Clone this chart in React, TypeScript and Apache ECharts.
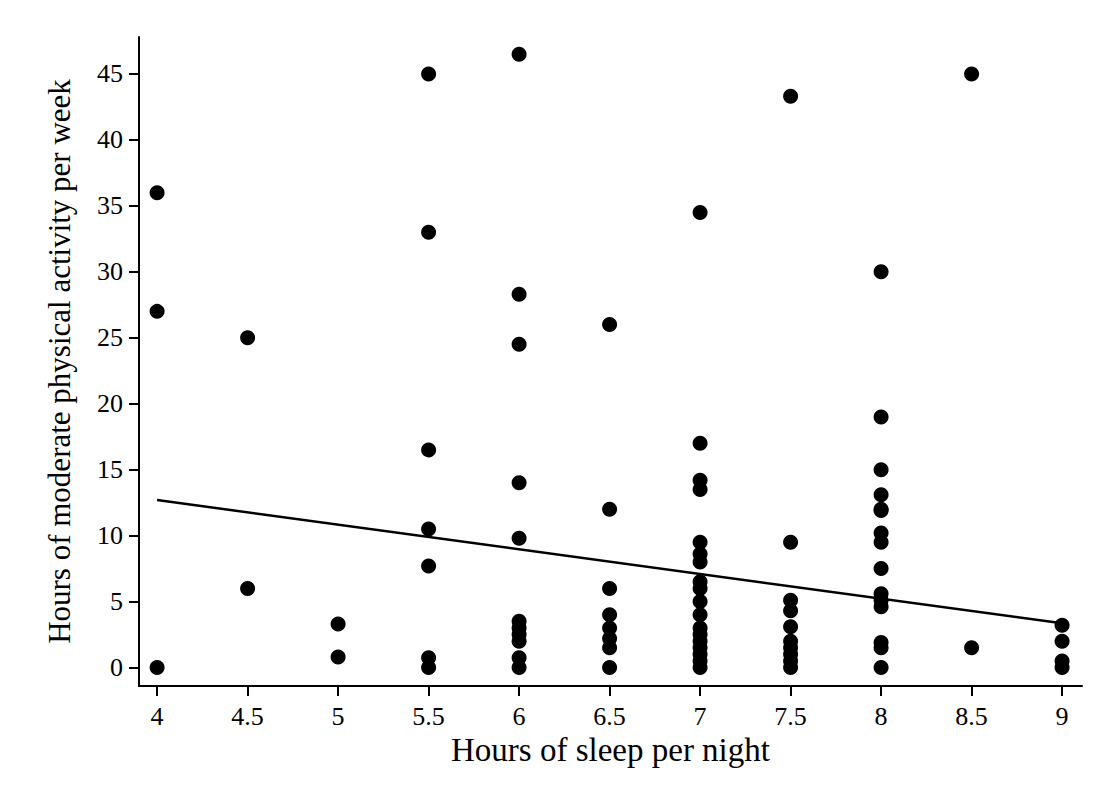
import React, { useEffect, useRef } from "react";
import * as echarts from "echarts";

// Hours of sleep per night (x) and weekly hours of moderate activity (y)
const sleep4 = [36, 27, 0];
const sleep45 = [25, 6];
const sleep5 = [3.3, 0.8];
const sleep55 = [45, 33, 16.5, 10.5, 7.7, 0.75, 0];
const sleep6 = [46.5, 28.3, 24.5, 14, 9.8, 3.5, 3, 2.5, 2, 0.75, 0];
const sleep65 = [26, 12, 6, 4, 3, 2.2, 1.5, 0];
const sleep7 = [34.5, 17, 14.2, 13.5, 9.5, 8.6, 8, 6.5, 6, 5, 4, 3, 2.5, 2, 1.5, 1, 0.5, 0];
const sleep75 = [43.3, 9.5, 5.1, 4.3, 3.1, 2, 1.5, 1, 0.5, 0];
const sleep8 = [30, 19, 15, 13.1, 12, 11.9, 10.2, 9.5, 7.5, 5.6, 5.1, 4.6, 1.9, 1.5, 0];
const sleep85 = [45, 1.5];
const sleep9 = [3.2, 2, 0.5, 0];

const columns: [number, number[]][] = [
  [4, sleep4],
  [4.5, sleep45],
  [5, sleep5],
  [5.5, sleep55],
  [6, sleep6],
  [6.5, sleep65],
  [7, sleep7],
  [7.5, sleep75],
  [8, sleep8],
  [8.5, sleep85],
  [9, sleep9],
];

// Linear fit endpoints
const fitLine: [number, number][] = [
  [4, 12.7],
  [9, 3.35],
];

const xTicks = [4, 4.5, 5, 5.5, 6, 6.5, 7, 7.5, 8, 8.5, 9];
const yTicks = [0, 5, 10, 15, 20, 25, 30, 35, 40, 45];

const FONT = "'Liberation Serif', 'Times New Roman', serif";

export default function App() {
  const ref = useRef<HTMLDivElement>(null);

  useEffect(() => {
    if (!ref.current) return;
    const chart = echarts.init(ref.current, undefined, { renderer: "svg" });
    const points: [number, number][] = [];
    columns.forEach(([x, ys]) => ys.forEach((y) => points.push([x, y])));

    chart.setOption({
      animation: false,
      backgroundColor: "#ffffff",
      grid: { left: 131, top: 29, right: 14, bottom: 114, containLabel: false },
      xAxis: {
        type: "value",
        min: 3.9,
        max: 9.11,
        name: "Hours of sleep per night",
        nameLocation: "middle",
        nameGap: 46,
        nameTextStyle: { fontFamily: FONT, fontSize: 33, color: "#000" },
        axisLine: { show: true, onZero: false, lineStyle: { color: "#000", width: 2 } },
        axisTick: {
          show: true,
          length: 10,
          customValues: xTicks,
          lineStyle: { color: "#000", width: 2 },
        },
        axisLabel: {
          customValues: xTicks,
          formatter: (v: number) => String(v),
          fontFamily: FONT,
          fontSize: 26,
          color: "#000",
          margin: 17,
        },
        splitLine: { show: false },
      },
      yAxis: {
        type: "value",
        min: -1.4,
        max: 47.8,
        name: "Hours of moderate physical activity per week",
        nameLocation: "middle",
        nameGap: 64,
        nameTextStyle: { fontFamily: FONT, fontSize: 31, color: "#000" },
        axisLine: { show: true, onZero: false, lineStyle: { color: "#000", width: 2 } },
        axisTick: {
          show: true,
          length: 10,
          customValues: yTicks,
          lineStyle: { color: "#000", width: 2 },
        },
        axisLabel: {
          customValues: yTicks,
          formatter: (v: number) => String(v),
          fontFamily: FONT,
          fontSize: 26,
          color: "#000",
          margin: 16,
        },
        splitLine: { show: false },
      },
      series: [
        {
          type: "scatter",
          data: points,
          symbol: "circle",
          symbolSize: 15,
          itemStyle: { color: "#000", opacity: 1 },
          z: 2,
        },
        {
          type: "line",
          data: fitLine,
          showSymbol: false,
          symbol: "none",
          lineStyle: { color: "#000", width: 2.5 },
          z: 3,
        },
      ],
    });
    return () => chart.dispose();
  }, []);

  return <div ref={ref} style={{ width: 1088, height: 792 }} />;
}
